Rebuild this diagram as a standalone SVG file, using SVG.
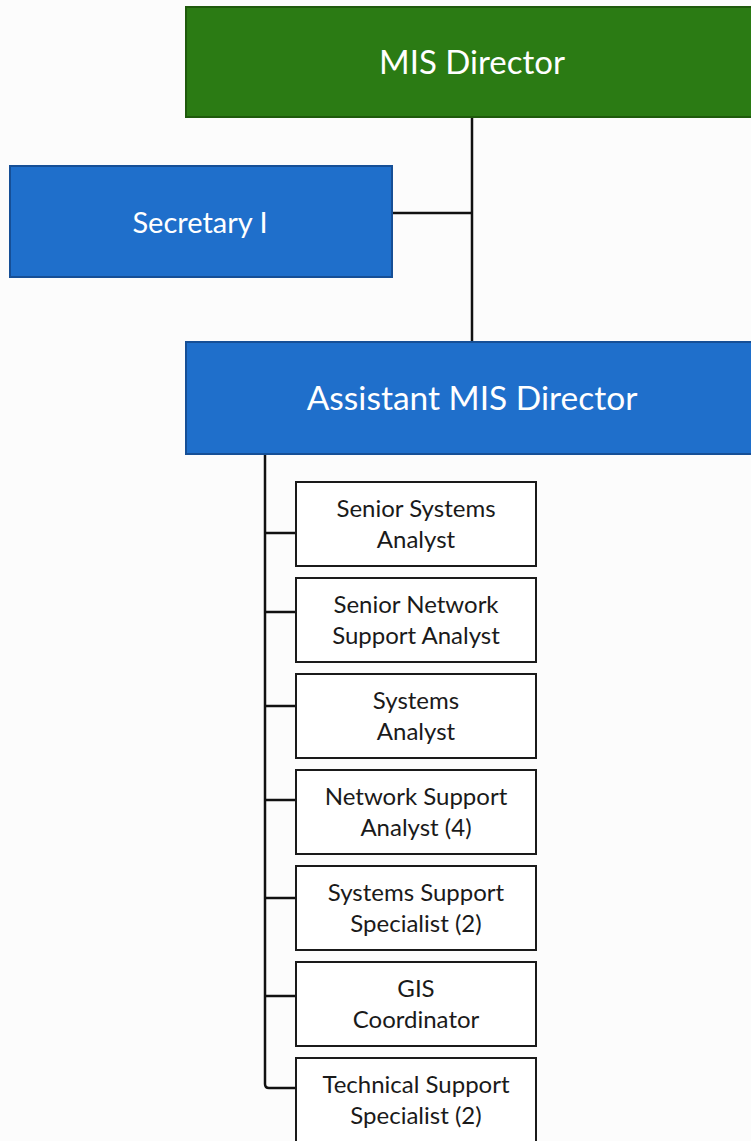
<svg xmlns="http://www.w3.org/2000/svg" width="751" height="1141" viewBox="0 0 751 1141">
<style>
.big{font-family:Lato,"Open Sans",sans-serif;fill:#ffffff;text-anchor:middle;}
.box{fill:#ffffff;stroke:#1a1a1a;stroke-width:2;}
.lbl{font-family:Lato,"Open Sans",sans-serif;font-size:24px;fill:#1a1a1a;text-anchor:middle;}
.conn{fill:none;stroke:#111111;stroke-width:2.5;}
</style>
<rect width="751" height="1141" fill="#fcfcfc"/>
<g id="connectors">
<path class="conn" d="M472 117V342M392 213H472"/>
<path class="conn" d="M265 454V1084Q265 1088 269 1088H296"/>
<path class="conn" d="M265 533H296M265 612H296M265 706H296M265 800H296M265 898H296M265 996H296"/>
</g>
<g id="mis-director">
<rect x="186" y="7" width="580" height="110" fill="#2b7b14" stroke="#1f5a0c" stroke-width="2"/>
<text class="big" x="472" y="74" font-size="33">MIS Director</text>
</g>
<g id="secretary">
<rect x="10" y="166" width="382" height="111" fill="#1f6fcb" stroke="#164f96" stroke-width="2"/>
<text class="big" x="200" y="233" font-size="29">Secretary I</text>
</g>
<g id="assistant">
<rect x="186" y="342" width="580" height="112" fill="#1f6fcb" stroke="#164f96" stroke-width="2"/>
<text class="big" x="472" y="410" font-size="33.5">Assistant MIS Director</text>
</g>
<g id="n1"><rect class="box" x="296" y="482" width="240" height="84"/><text class="lbl" x="416" y="517">Senior Systems</text><text class="lbl" x="416" y="548">Analyst</text></g>
<g id="n2"><rect class="box" x="296" y="578" width="240" height="84"/><text class="lbl" x="416" y="613">Senior Network</text><text class="lbl" x="416" y="644">Support Analyst</text></g>
<g id="n3"><rect class="box" x="296" y="674" width="240" height="84"/><text class="lbl" x="416" y="709">Systems</text><text class="lbl" x="416" y="740">Analyst</text></g>
<g id="n4"><rect class="box" x="296" y="770" width="240" height="84"/><text class="lbl" x="416" y="805">Network Support</text><text class="lbl" x="416" y="836">Analyst (4)</text></g>
<g id="n5"><rect class="box" x="296" y="866" width="240" height="84"/><text class="lbl" x="416" y="901">Systems Support</text><text class="lbl" x="416" y="932">Specialist (2)</text></g>
<g id="n6"><rect class="box" x="296" y="962" width="240" height="84"/><text class="lbl" x="416" y="997">GIS</text><text class="lbl" x="416" y="1028">Coordinator</text></g>
<g id="n7"><rect class="box" x="296" y="1058" width="240" height="90"/><text class="lbl" x="416" y="1093">Technical Support</text><text class="lbl" x="416" y="1124">Specialist (2)</text></g>
</svg>
